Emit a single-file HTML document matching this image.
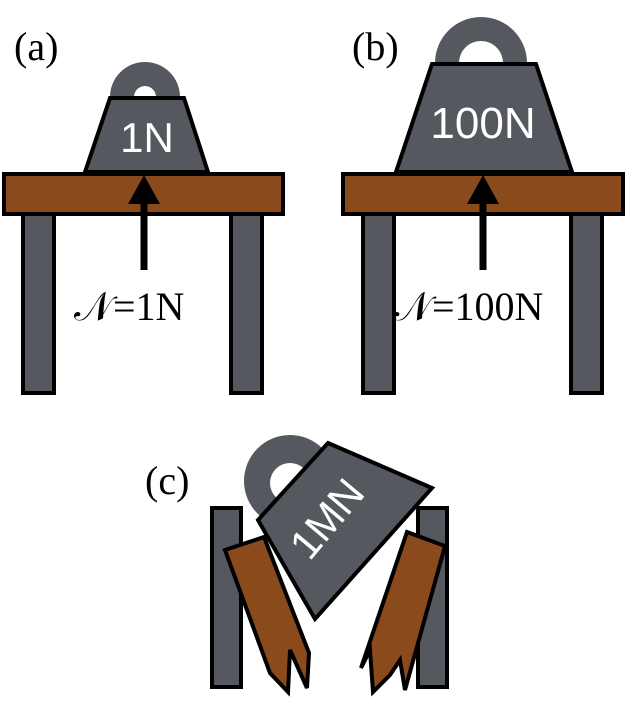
<!DOCTYPE html>
<html><head><style>
html,body{margin:0;padding:0;background:#fff;}
svg{display:block;}
.lbl{font-family:"Liberation Serif",serif;font-size:40px;fill:#000;}
.w{font-family:"Liberation Sans",sans-serif;fill:#fff;}
</style></head><body>
<svg width="626" height="702" viewBox="0 0 626 702" xmlns="http://www.w3.org/2000/svg">
<g stroke="#000" stroke-width="4" stroke-linejoin="miter">
<rect x="23" y="213" width="31" height="180" fill="#55585f"/>
<rect x="231" y="213" width="31" height="180" fill="#55585f"/>
<circle cx="145" cy="97" r="35" fill="#55585f" stroke="none"/>
<circle cx="145" cy="97" r="11" fill="#fff" stroke="none"/>
<polygon points="110,98 184,98 208,172 85,172" fill="#55585f"/>
<rect x="4" y="174" width="279" height="40" fill="#8a4a1c"/>
<rect x="363" y="213" width="31" height="180" fill="#55585f"/>
<rect x="571" y="213" width="31" height="180" fill="#55585f"/>
<circle cx="481" cy="63" r="46" fill="#55585f" stroke="none"/>
<circle cx="481" cy="63" r="22" fill="#fff" stroke="none"/>
<polygon points="432,64 536,64 572,172 396,172" fill="#55585f"/>
<rect x="343" y="174" width="280" height="40" fill="#8a4a1c"/>
<rect x="212" y="508" width="29" height="179" fill="#55585f"/>
<rect x="418" y="508" width="29" height="179" fill="#55585f"/>
<circle cx="290" cy="481" r="46" fill="#55585f" stroke="none"/>
<circle cx="290" cy="483" r="20" fill="#fff" stroke="none"/>
<polygon points="225,550 264,537 309,653 307,688 290,650 288,692 270,673" fill="#8a4a1c"/>
<polygon points="407,532 445,546 405,690 400,660 390,675 373,692 370,650 361,668" fill="#8a4a1c"/>
<polygon points="328,443 432,488 315,619 258,520" fill="#55585f"/>
</g>
<line x1="144" y1="270" x2="144" y2="200" stroke="#000" stroke-width="7"/>
<polygon points="144,175 128,204 160,204" fill="#000"/>
<line x1="483" y1="270" x2="483" y2="200" stroke="#000" stroke-width="7"/>
<polygon points="483,175 467,204 499,204" fill="#000"/>
<text class="w" x="147" y="152" font-size="42" text-anchor="middle">1N</text>
<text class="w" x="483" y="138" font-size="44" text-anchor="middle">100N</text>
<text class="w" x="0" y="0" font-size="42" text-anchor="middle" transform="translate(338,528) rotate(-50)">1MN</text>
<text class="lbl" x="14" y="60">(a)</text>
<text class="lbl" x="352" y="60">(b)</text>
<text class="lbl" x="145" y="494">(c)</text>
<text class="lbl" x="74" y="320" font-size="50">𝒩</text>
<text class="lbl" x="113" y="320" font-size="48">=1N</text>
<text class="lbl" x="393" y="320" font-size="50">𝒩</text>
<text class="lbl" x="432" y="320" font-size="48">=100N</text>
</svg>
</body></html>
